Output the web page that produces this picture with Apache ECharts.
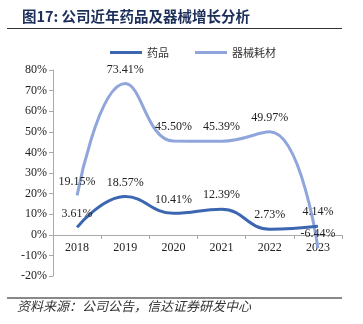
<!DOCTYPE html>
<html><head><meta charset="utf-8">
<script src="https://cdn.jsdelivr.net/npm/echarts@6/dist/echarts.min.js"></script>
<style>html,body{margin:0;padding:0;background:#fff}#c{width:363px;height:324px}</style>
</head><body><div id="c"></div>
<script>
const categories = ['2018','2019','2020','2021','2022','2023'];
const drugs = [3.61, 18.57, 10.41, 12.39, 2.73, 4.14];
const devices = [19.15, 73.41, 45.50, 45.39, 49.97, -6.44];
const seriesNames = ['药品','器械耗材'];

const chart = echarts.init(document.getElementById('c'));
const serif = '"Liberation Serif", "Times New Roman", serif';
const lbl = {show:true, position:'top', distance:8, fontFamily:serif, fontSize:12, color:'#222', formatter: p => p.value.toFixed(2)+'%'};
chart.setOption({
  animation:false,
  title:{text:'图17: 公司近年药品及器械增长分析', left:17, top:4,
    textStyle:{fontFamily:'"Noto Sans CJK SC", sans-serif', fontSize:14.5, fontWeight:'bold', color:'#1c2f5a'}},
  graphic:[
    {type:'line', shape:{x1:7,y1:28.5,x2:342,y2:28.5}, style:{stroke:'#333', lineWidth:1}},
    {type:'line', shape:{x1:7,y1:298,x2:342,y2:298}, style:{stroke:'#888', lineWidth:2}},
    {type:'text', left:17, top:300, style:{text:'资料来源：公司公告，信达证券研发中心', fontFamily:'"Noto Sans CJK SC", sans-serif', fontSize:13, fontStyle:'italic', fill:'#333'}}
  ],
  legend:{top:42, left:105, itemWidth:32, itemHeight:3, itemGap:26, icon:'rect',
    textStyle:{fontFamily:'"Noto Sans CJK SC", sans-serif', fontSize:11, color:'#333'},
    data:seriesNames},
  grid:{left:53, right:21, top:70, bottom:48, containLabel:false},
  xAxis:{type:'category', data:categories, offset:-41,
    axisLine:{onZero:false, lineStyle:{color:'#aaa'}},
    axisTick:{show:true, length:4, lineStyle:{color:'#aaa'}},
    axisLabel:{fontFamily:serif, fontSize:12, color:'#222', margin:7}},
  yAxis:{type:'value', min:-20, max:80, interval:10,
    axisLine:{show:true, lineStyle:{color:'#aaa'}},
    axisTick:{show:true, length:4, lineStyle:{color:'#aaa'}},
    splitLine:{show:false},
    axisLabel:{fontFamily:serif, fontSize:12, color:'#222', margin:6, formatter: v => v+'%'}},
  series:[
    {name:seriesNames[0], type:'line', data:drugs, smooth:0.45, symbol:'circle', symbolSize:0,
      lineStyle:{width:3, color:'#3d66b0'}, itemStyle:{color:'#3d66b0'}, label:lbl, z:3},
    {name:seriesNames[1], type:'line', data:devices, smooth:0.45, symbol:'circle', symbolSize:0,
      lineStyle:{width:3, color:'#8fa5dc'}, itemStyle:{color:'#8fa5dc'}, label:lbl, z:2}
  ]
});
</script></body></html>
